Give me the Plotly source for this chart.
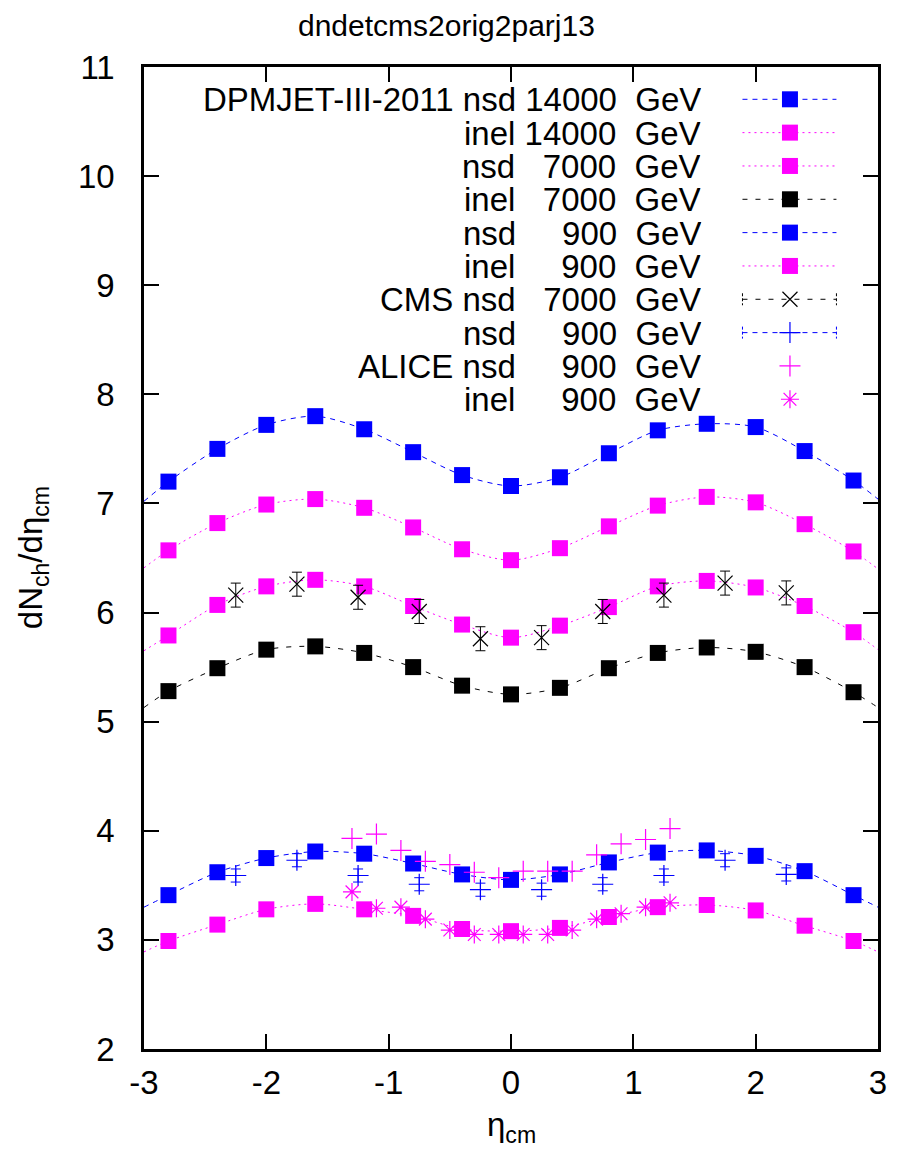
import plotly.graph_objects as go

# ---------------- data ----------------
eta_model = [-2.8, -2.4, -2.0, -1.6, -1.2, -0.8, -0.4, 0.0, 0.4, 0.8, 1.2, 1.6, 2.0, 2.4, 2.8]
eta_edge = [-3.0, 3.0]

nsd_14000 = [7.20, 7.50, 7.72, 7.80, 7.68, 7.47, 7.26, 7.16, 7.24, 7.46, 7.67, 7.73, 7.70, 7.48, 7.21]
nsd_14000_edge = [7.02, 7.04]
inel_14000 = [6.57, 6.82, 6.99, 7.04, 6.96, 6.78, 6.58, 6.48, 6.59, 6.79, 6.98, 7.06, 7.01, 6.81, 6.56]
inel_14000_edge = [6.41, 6.40]
nsd_7000 = [5.79, 6.07, 6.24, 6.30, 6.24, 6.06, 5.89, 5.77, 5.88, 6.05, 6.24, 6.29, 6.23, 6.06, 5.82]
nsd_7000_edge = [5.65, 5.66]
inel_7000 = [5.28, 5.49, 5.66, 5.69, 5.63, 5.50, 5.33, 5.25, 5.31, 5.49, 5.63, 5.68, 5.64, 5.50, 5.27]
inel_7000_edge = [5.13, 5.13]
nsd_900 = [3.41, 3.62, 3.75, 3.81, 3.79, 3.70, 3.60, 3.55, 3.60, 3.71, 3.80, 3.82, 3.77, 3.63, 3.41]
nsd_900_edge = [3.30, 3.30]
inel_900 = [2.99, 3.14, 3.28, 3.33, 3.28, 3.22, 3.10, 3.08, 3.11, 3.21, 3.30, 3.32, 3.27, 3.13, 2.99]
inel_900_edge = [2.89, 2.89]

eta_cms = [-2.25, -1.75, -1.25, -0.75, -0.25, 0.25, 0.75, 1.25, 1.75, 2.25]
cms_nsd_7000 = [6.16, 6.26, 6.14, 6.01, 5.76, 5.77, 6.01, 6.16, 6.27, 6.18]
cms_nsd_7000_err = [0.11, 0.11, 0.11, 0.11, 0.11, 0.11, 0.11, 0.11, 0.11, 0.11]
cms_nsd_900 = [3.59, 3.73, 3.59, 3.51, 3.46, 3.46, 3.51, 3.59, 3.73, 3.60]
cms_nsd_900_err = [0.06, 0.06, 0.06, 0.06, 0.06, 0.06, 0.06, 0.06, 0.06, 0.06]

eta_alice = [-1.3, -1.1, -0.9, -0.7, -0.5, -0.3, -0.1, 0.1, 0.3, 0.5, 0.7, 0.9, 1.1, 1.3]
alice_nsd_900 = [3.93, 3.97, 3.82, 3.72, 3.69, 3.62, 3.57, 3.63, 3.63, 3.63, 3.78, 3.88, 3.92, 4.02]
alice_inel_900 = [3.44, 3.29, 3.30, 3.19, 3.09, 3.05, 3.05, 3.05, 3.05, 3.09, 3.19, 3.24, 3.30, 3.34]

legend_prefix = ["DPMJET-III-2011", "", "", "", "", "", "CMS", "", "ALICE", ""]
legend_kind = ["nsd", "inel", "nsd", "inel", "nsd", "inel", "nsd", "nsd", "nsd", "inel"]
legend_energy = ["14000", "14000", "7000", "7000", "900", "900", "7000", "900", "900", "900"]
legend_unit = "GeV"

x_ticks = [-3, -2, -1, 0, 1, 2, 3]
y_ticks = [2, 3, 4, 5, 6, 7, 8, 9, 10, 11]

# ---------------- style ----------------
BLUE = "#0000ff"
MAG = "#ff00ff"
BLACK = "#000000"
DASH_BLUE = "5px,5px"
DOT_MAG = "2px,4px"
DASH_BLACK = "5px,8px"
FONT = "Liberation Sans, Arial, sans-serif"
FS = 33          # tick labels, legend, axis labels
FS_TITLE = 30
NB = "\u00a0"

# the page body has an 8px default margin; lay the figure out in page pixels
OFF = 8
W, H = 899 - OFF, 1155 - OFF
L, R, T, B = 144 - OFF, 13, 67 - OFF, 106
PW = W - L - R
PH = H - T - B


def px2x(px):
    return (px - OFF - L) / PW


def px2y(py):
    return (H - B - (py - OFF)) / PH


fig = go.Figure()

models = [
    (nsd_14000, nsd_14000_edge, BLUE, DASH_BLUE),
    (inel_14000, inel_14000_edge, MAG, DOT_MAG),
    (nsd_7000, nsd_7000_edge, MAG, DOT_MAG),
    (inel_7000, inel_7000_edge, BLACK, DASH_BLACK),
    (nsd_900, nsd_900_edge, BLUE, DASH_BLUE),
    (inel_900, inel_900_edge, MAG, DOT_MAG),
]

for vals, edge, col, dash in models:
    fig.add_trace(go.Scatter(
        x=[eta_edge[0]] + eta_model + [eta_edge[1]],
        y=[edge[0]] + vals + [edge[1]],
        mode="lines", line=dict(color=col, width=1, dash=dash, shape="spline", smoothing=0.8),
        showlegend=False, hoverinfo="skip"))
    fig.add_trace(go.Scatter(
        x=eta_model, y=vals, mode="markers",
        marker=dict(symbol="square", size=16, color=col, line=dict(width=0)),
        showlegend=False))

# CMS data
fig.add_trace(go.Scatter(
    x=eta_cms, y=cms_nsd_7000, mode="markers",
    marker=dict(symbol="x-thin", size=15, line=dict(color=BLACK, width=1.2)),
    error_y=dict(type="data", array=cms_nsd_7000_err, width=5, thickness=1, color=BLACK),
    showlegend=False))
fig.add_trace(go.Scatter(
    x=eta_cms, y=cms_nsd_900, mode="markers",
    marker=dict(symbol="cross-thin", size=15, line=dict(color=BLUE, width=1.2)),
    error_y=dict(type="data", array=cms_nsd_900_err, width=5, thickness=1, color=BLUE),
    showlegend=False))
# ALICE data
fig.add_trace(go.Scatter(
    x=eta_alice, y=alice_nsd_900, mode="markers",
    marker=dict(symbol="cross-thin", size=15, line=dict(color=MAG, width=1.2)),
    showlegend=False))
fig.add_trace(go.Scatter(
    x=eta_alice, y=alice_inel_900, mode="markers",
    marker=dict(symbol="asterisk", size=15, line=dict(color=MAG, width=1.2)),
    showlegend=False))

# ---------------- custom legend (gnuplot style) ----------------
row_y0, row_dy = 99.3, 33.33
samp_x0, samp_x1, samp_xm = 749, 844, 797
text_right = 708
legend_styles = [
    dict(col=BLUE, dash=DASH_BLUE, sym="square", size=16, line=True, caps=False),
    dict(col=MAG, dash=DOT_MAG, sym="square", size=16, line=True, caps=False),
    dict(col=MAG, dash=DOT_MAG, sym="square", size=16, line=True, caps=False),
    dict(col=BLACK, dash=DASH_BLACK, sym="square", size=16, line=True, caps=False),
    dict(col=BLUE, dash=DASH_BLUE, sym="square", size=16, line=True, caps=False),
    dict(col=MAG, dash=DOT_MAG, sym="square", size=16, line=True, caps=False),
    dict(col=BLACK, dash=DASH_BLACK, sym="x-thin", size=15, line=True, caps=True),
    dict(col=BLUE, dash=DASH_BLUE, sym="cross-thin", size=15, line=True, caps=True),
    dict(col=MAG, dash=None, sym="cross-thin", size=15, line=False, caps=False),
    dict(col=MAG, dash=None, sym="asterisk", size=15, line=False, caps=False),
]

annotations = []
for i in range(len(legend_kind)):
    py = row_y0 + row_dy * i
    st = legend_styles[i]
    yy = px2y(py)
    pad = NB * (1 + 2 * (5 - len(legend_energy[i])))
    label = (legend_prefix[i] + " " if legend_prefix[i] else "") + legend_kind[i] + pad + \
        legend_energy[i] + NB * 2 + legend_unit
    annotations.append(dict(x=px2x(text_right), y=yy, xref="paper", yref="paper", text=label,
                            xanchor="right", yanchor="middle", showarrow=False, borderpad=0,
                            height=32, valign="middle",
                            font=dict(family=FONT, size=FS, color="black")))
    if st["line"]:
        fig.add_trace(go.Scatter(x=[px2x(samp_x0), px2x(samp_x1)], y=[yy, yy], mode="lines",
                                 line=dict(color=st["col"], width=1, dash=st["dash"]),
                                 xaxis="x2", yaxis="y2", showlegend=False, hoverinfo="skip"))
    if st["caps"]:
        for cx in (samp_x0, samp_x1):
            fig.add_trace(go.Scatter(x=[px2x(cx), px2x(cx)], y=[px2y(py - 6), px2y(py + 6)],
                                     mode="lines", line=dict(color=st["col"], width=1, dash="3px,2px"),
                                     xaxis="x2", yaxis="y2", showlegend=False, hoverinfo="skip"))
    mk = dict(symbol=st["sym"], size=st["size"], color=st["col"])
    if st["sym"] == "square":
        mk["line"] = dict(width=0)
    else:
        mk["line"] = dict(color=st["col"], width=1.2)
    fig.add_trace(go.Scatter(x=[px2x(samp_xm)], y=[yy], mode="markers", marker=mk,
                             xaxis="x2", yaxis="y2", showlegend=False, hoverinfo="skip"))

# title and axis labels
annotations.append(dict(x=px2x(449.5), y=px2y(25), xref="paper", yref="paper",
                        text="dndetcms2orig2parj13", xanchor="center", yanchor="middle",
                        showarrow=False, borderpad=0,
                        font=dict(family=FONT, size=FS_TITLE, color="black")))
annotations.append(dict(x=px2x(32), y=0.5, xref="paper", yref="paper",
                        text="dN<sub>ch</sub>/dη<sub>cm</sub>", textangle=-90,
                        xanchor="center", yanchor="middle", showarrow=False,
                        font=dict(family=FONT, size=FS, color="black")))
annotations.append(dict(x=0.5, y=px2y(1127), xref="paper", yref="paper",
                        text="η<sub>cm</sub>", xanchor="center", yanchor="middle",
                        showarrow=False, font=dict(family=FONT, size=FS, color="black")))

axis_common = dict(showgrid=False, zeroline=False, ticks="inside", ticklen=15, tickwidth=2,
                   tickcolor="black", showline=True, linecolor="black", linewidth=2.5,
                   mirror="ticks", tickfont=dict(family=FONT, size=FS, color="black"))

fig.update_layout(
    width=W, height=H,
    margin=dict(l=L, r=R, t=T, b=B),
    paper_bgcolor="white", plot_bgcolor="white",
    showlegend=False,
    xaxis=dict(range=[-3, 3], tickvals=x_ticks, ticktext=[str(v) for v in x_ticks],
               ticklabelstandoff=3, **axis_common),
    yaxis=dict(range=[2, 11], tickvals=y_ticks, ticktext=[str(v) for v in y_ticks],
               ticklabelstandoff=20, **axis_common),
    xaxis2=dict(range=[0, 1], overlaying="x", visible=False, anchor="y2"),
    yaxis2=dict(range=[0, 1], overlaying="y", visible=False, anchor="x2"),
    annotations=annotations,
)

fig.write_html("out.html")
